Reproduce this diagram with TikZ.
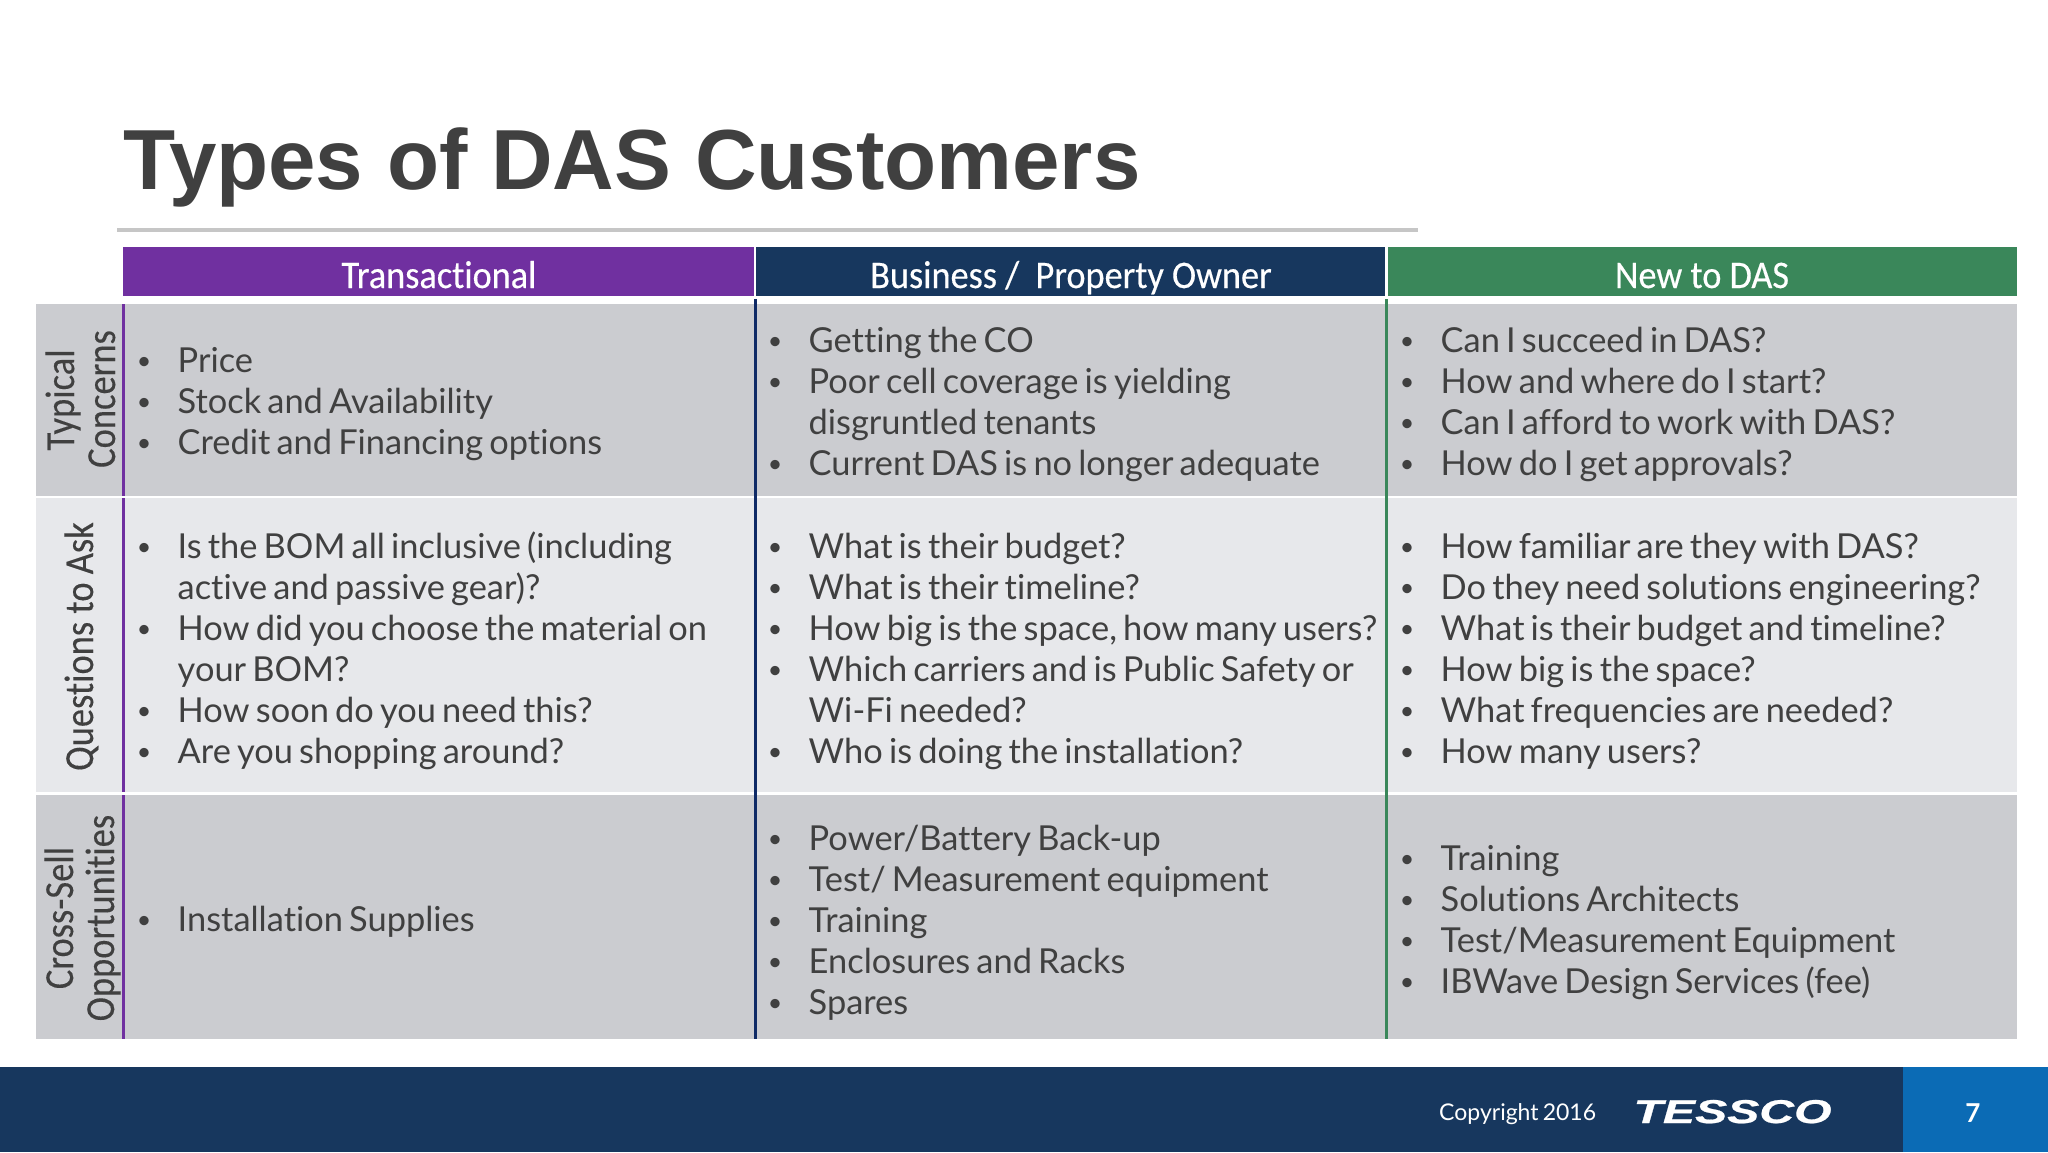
\documentclass[tikz,border=0pt]{standalone}
\usepackage{fontspec}
\setmainfont[Ligatures=NoCommon,WordSpace=0.7]{Lato}
\newfontfamily\titlefont{Liberation Sans}
\newfontfamily\logofont[BoldItalicFeatures={FakeBold=0.6}]{Liberation Sans}
\newfontfamily\headfont[FakeBold=0.4,Ligatures=NoCommon]{Carlito}
\newfontfamily\labelfont[FakeBold=0.25,Ligatures=NoCommon]{Carlito}
\usepackage{xcolor}
\usetikzlibrary{positioning}
\definecolor{dasPurple}{HTML}{7030A0}
\definecolor{dasNavy}{HTML}{17375E}
\definecolor{dasLineNavy}{HTML}{0F2A66}
\definecolor{dasGreen}{HTML}{3A875A}
\definecolor{dasRowDark}{HTML}{CBCCD0}
\definecolor{dasRowLight}{HTML}{E7E8EB}
\definecolor{dasText}{HTML}{404040}
\definecolor{dasRule}{HTML}{C6C6C6}
\definecolor{dasPage}{HTML}{0B6BB5}
\tikzset{
  headbox/.style={minimum height=49pt,inner sep=0pt,text height=33pt,text depth=0pt,text=white},
  headtext/.style={xscale=0.93,anchor=base,inner sep=0pt,text=white,font=\headfont\fontsize{39}{42}\selectfont},
  celltext/.style={anchor=base west,yshift=-0.6pt,inner sep=0pt,text=dasText,font=\fontsize{34.4}{41}\selectfont},
  bulletmark/.style={anchor=base,yshift=-0.6pt,inner sep=0pt,text=dasText,font=\fontsize{25}{41}\selectfont},
  rowlabel/.style={anchor=base,rotate=90,yscale=1.13,inner sep=0pt,text=dasText,font=\labelfont\fontsize{36.5}{40}\selectfont}
}
\newcommand{\itemline}[3]{%
  \node[bulletmark] at (#1-33.5,#2-3) {•};
  \node[celltext] at (#1,#2) {#3};}
\begin{document}
\begin{tikzpicture}[x=1pt,y=-1pt]
      \useasboundingbox (0,0) rectangle (2048,1152);

      % Title and rule
      \node[anchor=base west,inner sep=0pt,text=dasText,font=\titlefont\bfseries\fontsize{85.3}{90}\selectfont] (title) at (123,189) {Types of DAS Customers};
      \fill[dasRule] (117,228) rectangle (1418,232);

      % Column heads
      \node[headbox,fill=dasPurple,minimum width=631pt] (headTrans) at (438.5,271.5) {};
      \node[headbox,fill=dasNavy,minimum width=629pt] (headOwner) at (1070.5,271.5) {};
      \node[headbox,fill=dasGreen,minimum width=629pt] (headNew) at (1702.5,271.5) {};
      \node[headtext] (textTrans) at (439,288) {Transactional};
      \node[headtext] (textOwner) at (1071,288) {Business /\ \ Property Owner};
      \node[headtext] (textNew) at (1702,288) {New to DAS};

      % Rows
      \fill[dasRowDark] (36,304) rectangle (2017,496);
      \fill[dasRowLight] (36,498) rectangle (2017,792);
      \fill[dasRowDark] (36,795) rectangle (2017,1039);

      % Column lines
      \foreach \ya/\yb in {304/496,498/792,795/1039}
        \fill[dasPurple] (122,\ya) rectangle (125,\yb);
      \fill[dasLineNavy] (753.5,299) rectangle (756.5,1039);
      \fill[dasGreen] (1385,299) rectangle (1388,1039);

      % Row labels
      \node[rowlabel] (labTypical) at (74,400) {Typical};
      \node[rowlabel] (labConcerns) at (115,399) {Concerns};
      \node[rowlabel] (labQuestions) at (93,646.5) {Questions to Ask};
      \node[rowlabel] (labCross) at (73,918) {Cross-Sell};
      \node[rowlabel] (labOpp) at (114,918) {Opportunities};

      % Transactional
      \itemline{177.5}{372}{Price}
      \itemline{177.5}{413}{Stock and Availability}
      \itemline{177.5}{454}{Credit and Financing options}
      \itemline{177.5}{557.5}{Is the BOM all inclusive (including}
      \node[celltext] at (177.5,598.5) {active and passive gear)?};
      \itemline{177.5}{639.5}{How did you choose the material on}
      \node[celltext] at (177.5,680.5) {your BOM?};
      \itemline{177.5}{721.5}{How soon do you need this?}
      \itemline{177.5}{762.5}{Are you shopping around?}
      \itemline{177.5}{931}{Installation Supplies}

      % Business / Property Owner
      \itemline{808.5}{351.5}{Getting the CO}
      \itemline{808.5}{392.5}{Poor cell coverage is yielding}
      \node[celltext] at (808.5,433.5) {disgruntled tenants};
      \itemline{808.5}{474.5}{Current DAS is no longer adequate}
      \itemline{808.5}{557.5}{What is their budget?}
      \itemline{808.5}{598.5}{What is their timeline?}
      \itemline{808.5}{639.5}{How big is the space, how many users?}
      \itemline{808.5}{680.5}{Which carriers and is Public Safety or}
      \node[celltext] at (808.5,721.5) {Wi-Fi needed?};
      \itemline{808.5}{762.5}{Who is doing the installation?}
      \itemline{808.5}{849.5}{Power/Battery Back-up}
      \itemline{808.5}{890.5}{Test/ Measurement equipment}
      \itemline{808.5}{931.5}{Training}
      \itemline{808.5}{972.5}{Enclosures and Racks}
      \itemline{808.5}{1013.5}{Spares}

      % New to DAS
      \itemline{1440.5}{351.5}{Can I succeed in DAS?}
      \itemline{1440.5}{392.5}{How and where do I start?}
      \itemline{1440.5}{433.5}{Can I afford to work with DAS?}
      \itemline{1440.5}{474.5}{How do I get approvals?}
      \itemline{1440.5}{557.5}{How familiar are they with DAS?}
      \itemline{1440.5}{598.5}{Do they need solutions engineering?}
      \itemline{1440.5}{639.5}{What is their budget and timeline?}
      \itemline{1440.5}{680.5}{How big is the space?}
      \itemline{1440.5}{721.5}{What frequencies are needed?}
      \itemline{1440.5}{762.5}{How many users?}
      \itemline{1440.5}{870}{Training}
      \itemline{1440.5}{911}{Solutions Architects}
      \itemline{1440.5}{952}{Test/Measurement Equipment}
      \itemline{1440.5}{993}{IBWave Design Services (fee)}

      % Footer
      \fill[dasNavy] (0,1067) rectangle (1903,1152);
      \fill[dasPage] (1903,1067) rectangle (2048,1152);
      \node[anchor=base west,inner sep=0pt,text=white,font=\fontsize{23}{30}\selectfont] (copyright) at (1439,1120) {Copyright 2016};
      \node[anchor=base,inner sep=0pt,text=white,xscale=1.46,font=\logofont\bfseries\itshape\fontsize{33}{36}\selectfont] (logo) at (1732.5,1123) {TESSCO};
      \node[anchor=base,inner sep=0pt,text=white,font=\bfseries\fontsize{26}{30}\selectfont] (pagenum) at (1973,1122) {7};
    \end{tikzpicture}
\end{document}
